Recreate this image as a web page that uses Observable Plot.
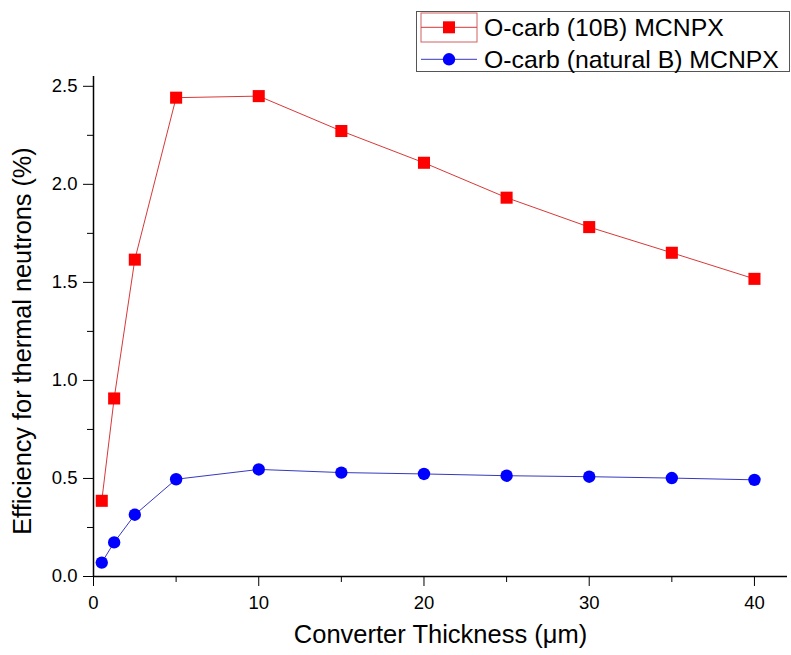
<!DOCTYPE html>
<html>
<head>
<meta charset="utf-8">
<script src="https://cdn.jsdelivr.net/npm/d3@7"></script>
<script src="https://cdn.jsdelivr.net/npm/@observablehq/plot@0.6"></script>
<style>
  html, body { margin: 0; padding: 0; background: #fff; }
  #chart svg { display: block; }
</style>
</head>
<body>
<div id="chart"></div>
<script>
const thickness = [0.5, 1.25, 2.5, 5, 10, 15, 20, 25, 30, 35, 40];
const eff10B = [0.386, 0.908, 1.616, 2.442, 2.450, 2.272, 2.110, 1.932, 1.782, 1.651, 1.518];
const effNatB = [0.071, 0.174, 0.315, 0.496, 0.546, 0.530, 0.523, 0.514, 0.509, 0.502, 0.493];
const seriesNames = ["O-carb (10B) MCNPX", "O-carb (natural B) MCNPX"];
const xMajorTicks = [0, 10, 20, 30, 40];
const xMinorTicks = [5, 15, 25, 35];
const yMajorTicks = [0, 0.5, 1.0, 1.5, 2.0, 2.5];
const yMinorTicks = [0.25, 0.75, 1.25, 1.75, 2.25];
const xTitle = "Converter Thickness (\u03bcm)";
const yTitle = "Efficiency for thermal neutrons (%)";

const redData = thickness.map((t, i) => ({x: t, y: eff10B[i]}));
const blueData = thickness.map((t, i) => ({x: t, y: effNatB[i]}));

const FONT = "'Liberation Sans', Arial, sans-serif";

const plot = Plot.plot({
  width: 791,
  height: 655,
  marginLeft: 93,
  marginRight: 4,
  marginTop: 76,
  marginBottom: 79,
  style: {fontFamily: FONT, fontSize: "18.5px", color: "#000", background: "#fff"},
  x: {domain: [0, 42]},
  y: {domain: [0, 2.55]},
  marks: [
    Plot.axisX({ticks: xMajorTicks, tickSize: 10, tickPadding: 9, label: null, tickFormat: d3.format("d"), fontSize: 18.5}),
    Plot.axisX({ticks: xMinorTicks, tickSize: 6, tickFormat: null, text: null, label: null}),
    Plot.axisY({ticks: yMajorTicks, tickSize: 10, tickPadding: 6, label: null, tickFormat: d3.format(".1f"), fontSize: 18.5}),
    Plot.axisY({ticks: yMinorTicks, tickSize: 6, text: null, label: null}),
    Plot.ruleY([0], {stroke: "#000", strokeWidth: 1.5}),
    Plot.ruleX([0], {stroke: "#000", strokeWidth: 1.5}),
    Plot.line(redData, {x: "x", y: "y", stroke: "#d83838", strokeWidth: 1}),
    Plot.line(blueData, {x: "x", y: "y", stroke: "#3838c0", strokeWidth: 1}),
    Plot.dot(redData, {x: "x", y: "y", symbol: "square", r: 6.8, fill: "#ff0000", stroke: "none"}),
    Plot.dot(blueData, {x: "x", y: "y", symbol: "circle", r: 6.2, fill: "#0000ff", stroke: "none"})
  ]
});

document.getElementById("chart").appendChild(plot);

const svg = d3.select(plot);

// Axis titles
svg.append("text")
  .attr("x", 440.5).attr("y", 643)
  .attr("text-anchor", "middle")
  .style("font-family", FONT).style("font-size", "25.5px").attr("fill", "#000")
  .text(xTitle);

svg.append("text")
  .attr("transform", "translate(31,341) rotate(-90)")
  .attr("text-anchor", "middle")
  .style("font-family", FONT).style("font-size", "25.3px").attr("fill", "#000")
  .text(yTitle);

// Legend
const lg = svg.append("g").style("font-family", FONT).style("font-size", "24.8px");
lg.append("rect").attr("x", 416.5).attr("y", 11.5).attr("width", 373).attr("height", 60)
  .attr("fill", "#fff").attr("stroke", "#555").attr("stroke-width", 1);
lg.append("rect").attr("x", 421).attr("y", 13).attr("width", 56).attr("height", 29)
  .attr("fill", "none").attr("stroke", "#d06060").attr("stroke-width", 1);
const rows = [
  {name: seriesNames[0], y: 27.3, color: "#d83838", fill: "#ff0000", sym: "square"},
  {name: seriesNames[1], y: 59.3, color: "#3838c0", fill: "#0000ff", sym: "circle"}
];
rows.forEach(r => {
  lg.append("line").attr("x1", 421).attr("x2", 477).attr("y1", r.y).attr("y2", r.y)
    .attr("stroke", r.color).attr("stroke-width", 1);
  if (r.sym === "square") {
    lg.append("rect").attr("x", 443).attr("y", r.y - 6).attr("width", 12).attr("height", 12).attr("fill", r.fill);
  } else {
    lg.append("circle").attr("cx", 449).attr("cy", r.y).attr("r", 6.2).attr("fill", r.fill);
  }
  lg.append("text").attr("x", 484).attr("y", r.y + 8.5)
    .attr("text-anchor", "start").attr("fill", "#000").text(r.name);
});
</script>
</body>
</html>
